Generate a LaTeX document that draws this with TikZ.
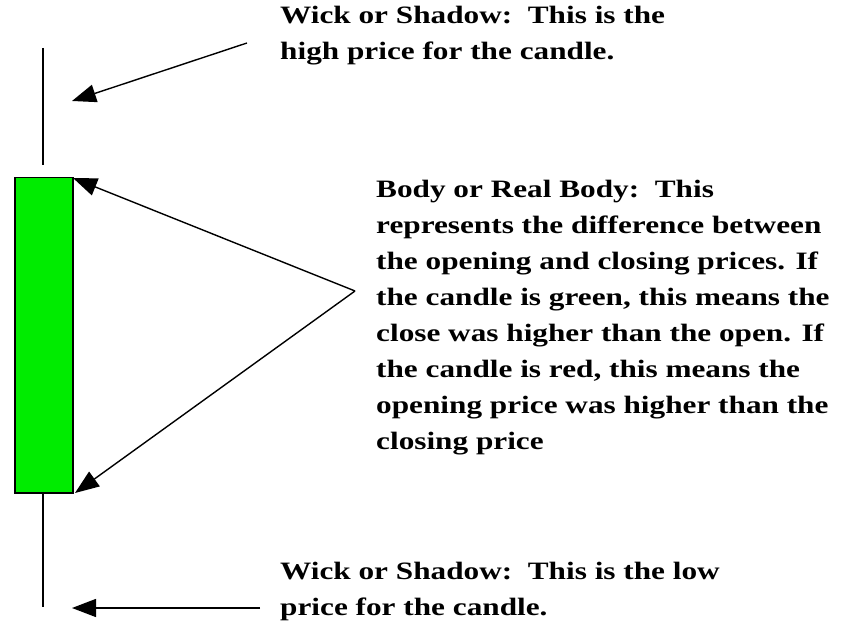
\documentclass[tikz,border=0pt]{standalone}
\usepackage{fontspec}
\setmainfont{Liberation Serif}[FakeStretch=1.25]
\usetikzlibrary{arrows.meta}
\tikzset{
  lbl/.style={anchor=base west, inner sep=0pt, align=left,
    font=\bfseries\fontsize{25}{36}\selectfont},
  pointer/.style={line width=1.4pt, -{Triangle[length=24pt,width=18pt]}},
  wick/.style={line width=1.6pt}
}
\begin{document}
\begin{tikzpicture}[x=1pt,y=-1pt]
\useasboundingbox (0,0) rectangle (846,628);
% candle
\coordinate (wt) at (43,48);
\coordinate (wtb) at (43,165);
\coordinate (wbt) at (43,494);
\coordinate (wb) at (43,607);
\draw[wick] (wt) -- (wtb);
\draw[wick] (wbt) -- (wb);
\node[draw=black, line width=1.5pt, fill={rgb,255:red,0;green,236;blue,0},
  minimum width=58pt, minimum height=315pt, inner sep=0pt, anchor=north west]
  (body) at (14,177) {};
% texts (anchored at the baseline of their last line)
\node[lbl] (top) at (280,60) {Wick or Shadow:\ \ This is the\\high price for the candle.};
\node[lbl] (mid) at (376,449) {Body or Real Body:\ \ This\\represents the difference between\\the opening and closing prices. If\\the candle is green, this means the\\close was higher than the open. If\\the candle is red, this means the\\opening price was higher than the\\closing price};
\node[lbl] (bot) at (280,615) {Wick or Shadow:\ \ This is the low\\price for the candle.};
% arrows
\coordinate (a1s) at (247,43);
\coordinate (a1e) at (72,101);
\coordinate (apex) at (355,291);
\coordinate (b1e) at (73,178);
\coordinate (b2e) at (75,493);
\coordinate (a3s) at (260,608);
\coordinate (a3e) at (72,608);
\draw[pointer] (a1s) -- (a1e);
\draw[pointer] (apex) -- (b1e);
\draw[pointer] (apex) -- (b2e);
\draw[pointer] (a3s) -- (a3e);
\end{tikzpicture}
\end{document}
